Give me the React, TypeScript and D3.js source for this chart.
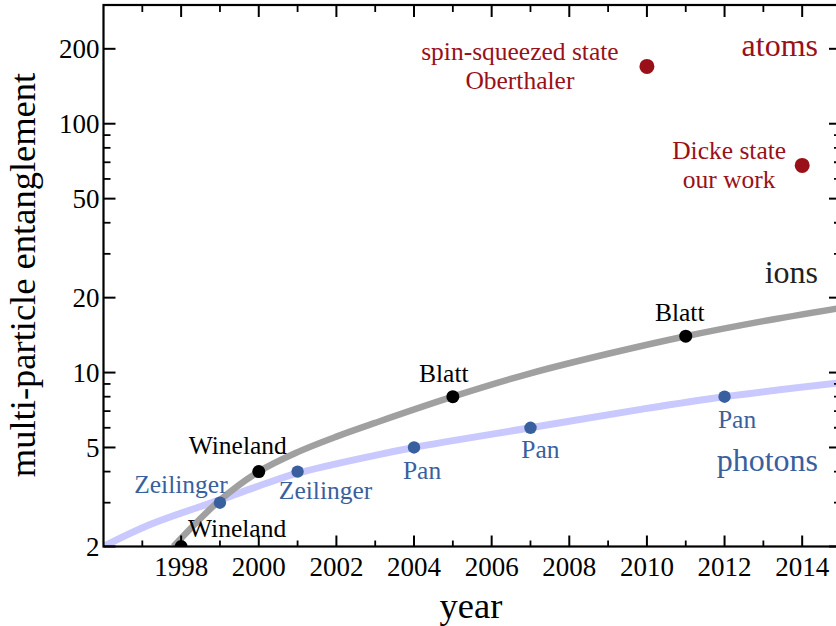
import React, { useEffect, useRef } from 'react';
import * as d3 from 'd3';

// measured points
const ionYears = [1998, 2000, 2005, 2011];
const ionValues = [2, 4, 8, 14];
const ionNames = ['Wineland', 'Wineland', 'Blatt', 'Blatt'];

const photonYears = [1999, 2001, 2004, 2007, 2012];
const photonValues = [3, 4, 5, 6, 8];
const photonNames = ['Zeilinger', 'Zeilinger', 'Pan', 'Pan', 'Pan'];

const atomYears = [2010, 2014];
const atomValues = [170, 68];
const atomNames = [['spin-squeezed state', 'Oberthaler'], ['Dicke state', 'our work']];

// trend curves
const ionTrendYears = [1997.8, 1999, 2000, 2001, 2002, 2003, 2005, 2007, 2009, 2011, 2013, 2015];
const ionTrendValues = [2, 3.07, 4, 4.79, 5.53, 6.28, 8, 9.93, 11.9, 14, 16.1, 18.2];
const photonTrendYears = [1996, 1997.2, 1999, 2000, 2001, 2003, 2004, 2007, 2009.8, 2012, 2015];
const photonTrendValues = [2, 2.45, 3.08, 3.5, 3.94, 4.65, 5, 6, 7.1, 8, 9.1];

// axes
const yMajorTicks = [2, 5, 10, 20, 50, 100, 200];
const yMinorTicks = [3, 4, 6, 7, 8, 9, 30, 40, 60, 70, 80, 90];
const xMajorTicks = [1998, 2000, 2002, 2004, 2006, 2008, 2010, 2012, 2014];
const xMinorTicks = [1997, 1999, 2001, 2003, 2005, 2007, 2009, 2011, 2013];

// label offsets from their point (layout only)
const ionLabelOffsets = [[56, -10], [-21, -18], [-9, -15], [-6, -15]];
const photonLabelOffsets = [[-39, -10], [28, 27], [8, 31.5], [10, 30.5], [12.5, 31.5]];
const atomLabelOffsets = [[-127, -6, 29], [-73, -6.5, 29]];

const FONT = '"Liberation Serif", "Times New Roman", serif';
const BLUE = '#3a5f9e';
const RED = '#9a1019';

export default function App() {
  const ref = useRef<SVGSVGElement | null>(null);

  useEffect(() => {
    const width = 836;
    const height = 626;
    const left = 103.5, right = 841, top = 5, bottom = 546.5;

    const svg = d3.select(ref.current);
    svg.selectAll('*').remove();
    svg.attr('width', width).attr('height', height);

    const x = d3.scaleLinear().domain([1996, 2015]).range([left, right]);
    const y = d3.scaleLog().domain([2, 300]).range([bottom, top]);

    svg.append('defs').append('clipPath').attr('id', 'plot-clip')
      .append('rect')
      .attr('x', left).attr('y', top)
      .attr('width', right - left).attr('height', bottom - top);

    const plot = svg.append('g').attr('clip-path', 'url(#plot-clip)');

    const line = d3.line<[number, number]>()
      .x(d => x(d[0]))
      .y(d => y(d[1]))
      .curve(d3.curveCatmullRom.alpha(0.5));

    plot.append('path')
      .attr('d', line(photonTrendYears.map((yr, i) => [yr, photonTrendValues[i]] as [number, number])))
      .attr('fill', 'none')
      .attr('stroke', '#c9c9ff')
      .attr('stroke-width', 7);

    plot.append('path')
      .attr('d', line(ionTrendYears.map((yr, i) => [yr, ionTrendValues[i]] as [number, number])))
      .attr('fill', 'none')
      .attr('stroke', '#a0a0a0')
      .attr('stroke-width', 6.5);

    // points
    plot.selectAll('circle.ion')
      .data(ionYears)
      .enter()
      .append('circle')
      .attr('cx', d => x(d))
      .attr('cy', (d, i) => y(ionValues[i]))
      .attr('r', 6.5)
      .style('fill', '#000');

    plot.selectAll('circle.photon')
      .data(photonYears)
      .enter()
      .append('circle')
      .attr('cx', d => x(d))
      .attr('cy', (d, i) => y(photonValues[i]))
      .attr('r', 6.2)
      .style('fill', BLUE);

    plot.selectAll('circle.atom')
      .data(atomYears)
      .enter()
      .append('circle')
      .attr('cx', d => x(d))
      .attr('cy', (d, i) => y(atomValues[i]))
      .attr('r', 7.5)
      .style('fill', RED);

    // point labels
    const labels = svg.append('g')
      .style('font-family', FONT)
      .style('font-size', '25.5px')
      .attr('text-anchor', 'middle');

    ionYears.forEach((yr, i) => {
      labels.append('text')
        .attr('x', x(yr) + ionLabelOffsets[i][0])
        .attr('y', y(ionValues[i]) + ionLabelOffsets[i][1])
        .style('fill', '#000')
        .text(ionNames[i]);
    });

    photonYears.forEach((yr, i) => {
      labels.append('text')
        .attr('x', x(yr) + photonLabelOffsets[i][0])
        .attr('y', y(photonValues[i]) + photonLabelOffsets[i][1])
        .style('fill', BLUE)
        .text(photonNames[i]);
    });

    atomYears.forEach((yr, i) => {
      const [dx, dy, lh] = atomLabelOffsets[i];
      atomNames[i].forEach((t, j) => {
        labels.append('text')
          .attr('x', x(yr) + dx)
          .attr('y', y(atomValues[i]) + dy + j * lh)
          .style('fill', RED)
          .text(t);
      });
    });

    // group labels
    const groups = svg.append('g')
      .style('font-family', FONT)
      .style('font-size', '32px')
      .attr('text-anchor', 'end');
    groups.append('text').attr('x', 818).attr('y', 56).style('fill', RED).text('atoms');
    groups.append('text').attr('x', 818).attr('y', 283).style('fill', '#222').text('ions');
    groups.append('text').attr('x', 818).attr('y', 471).style('fill', BLUE).text('photons');

    // frame
    const frame = svg.append('g').attr('stroke', '#000').attr('fill', 'none');
    frame.append('rect')
      .attr('x', left).attr('y', top)
      .attr('width', right - left).attr('height', bottom - top)
      .attr('stroke-width', 2.2);

    // y ticks, left and right, inward
    yMajorTicks.forEach(v => {
      frame.append('line').attr('x1', left).attr('x2', left + 12).attr('y1', y(v)).attr('y2', y(v)).attr('stroke-width', 2);
      frame.append('line').attr('x1', right).attr('x2', right - 12).attr('y1', y(v)).attr('y2', y(v)).attr('stroke-width', 2);
    });
    yMinorTicks.forEach(v => {
      frame.append('line').attr('x1', left).attr('x2', left + 7).attr('y1', y(v)).attr('y2', y(v)).attr('stroke-width', 1.8);
      frame.append('line').attr('x1', right).attr('x2', right - 7).attr('y1', y(v)).attr('y2', y(v)).attr('stroke-width', 1.8);
    });

    // x ticks, bottom and top, inward
    xMajorTicks.forEach(v => {
      frame.append('line').attr('x1', x(v)).attr('x2', x(v)).attr('y1', bottom).attr('y2', bottom - 11).attr('stroke-width', 2);
      frame.append('line').attr('x1', x(v)).attr('x2', x(v)).attr('y1', top).attr('y2', top + 12).attr('stroke-width', 2);
    });
    xMinorTicks.forEach(v => {
      frame.append('line').attr('x1', x(v)).attr('x2', x(v)).attr('y1', bottom).attr('y2', bottom - 6).attr('stroke-width', 1.8);
      frame.append('line').attr('x1', x(v)).attr('x2', x(v)).attr('y1', top).attr('y2', top + 7).attr('stroke-width', 1.8);
    });

    // tick labels
    const tickText = svg.append('g')
      .style('font-family', FONT)
      .style('font-size', '27px')
      .style('fill', '#000');
    yMajorTicks.forEach(v => {
      tickText.append('text')
        .attr('x', left - 4)
        .attr('y', y(v) + 9.5)
        .attr('text-anchor', 'end')
        .text(String(v));
    });
    xMajorTicks.forEach(v => {
      tickText.append('text')
        .attr('x', x(v))
        .attr('y', 576)
        .attr('text-anchor', 'middle')
        .text(String(v));
    });

    // axis titles
    svg.append('text')
      .attr('x', 471)
      .attr('y', 618)
      .attr('text-anchor', 'middle')
      .style('font-family', FONT)
      .style('font-size', '36.5px')
      .text('year');

    svg.append('text')
      .attr('transform', 'translate(35,275) rotate(-90)')
      .attr('text-anchor', 'middle')
      .style('font-family', FONT)
      .style('font-size', '36.5px')
      .text('multi-particle entanglement');
  }, []);

  return (
    <svg ref={ref} style={{ position: 'absolute', left: 0, top: 0, background: '#fff' }} />
  );
}
